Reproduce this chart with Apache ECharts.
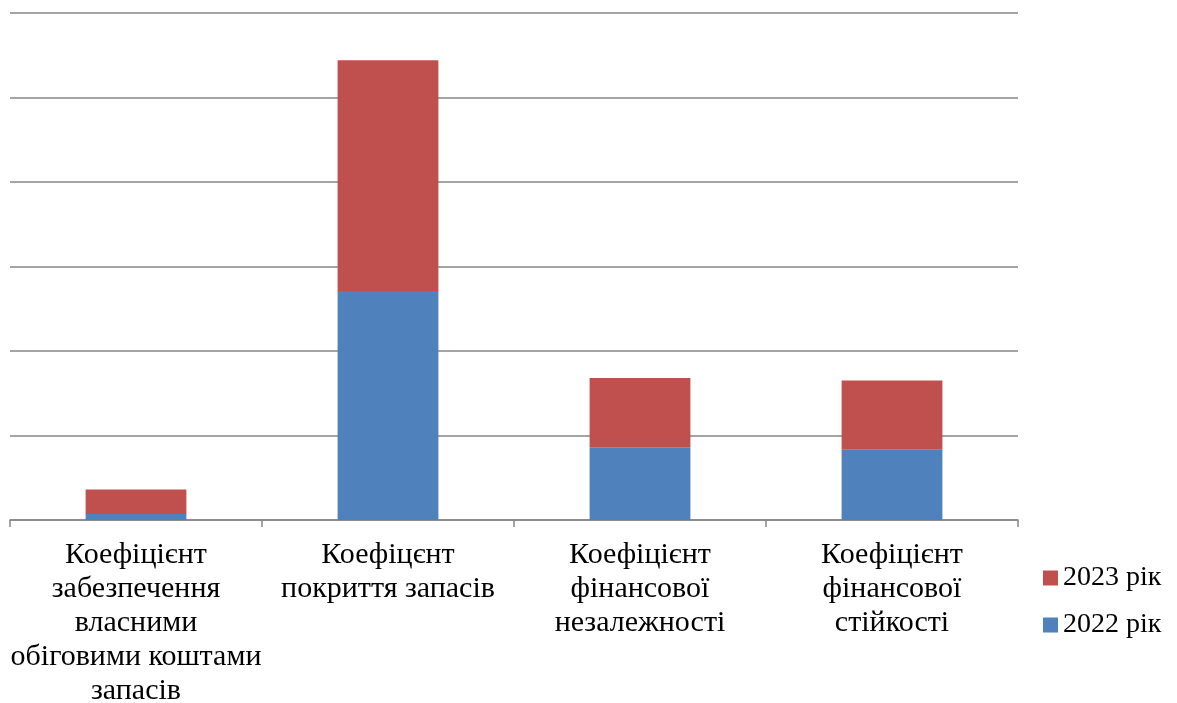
<!DOCTYPE html>
<html>
<head>
<meta charset="utf-8">
<script src="https://cdn.jsdelivr.net/npm/echarts@6/dist/echarts.min.js"></script>
<style>
  html, body { margin: 0; padding: 0; background: #fff; }
  #chart { width: 1177px; height: 703px; }
</style>
</head>
<body>
<div id="chart"></div>
<script>
// Categories (with manual line breaks as laid out under the axis)
const categories = [
  'Коефіцієнт\nзабезпечення\nвласними\nобіговими коштами\nзапасів',
  'Коефіцєнт\nпокриття запасів',
  'Коефіцієнт\nфінансової\nнезалежності',
  'Коефіцієнт\nфінансової\nстійкості'
];
const seriesNames = ['2022 рік', '2023 рік'];
const values2022 = [0.07, 2.71, 0.86, 0.83];
const values2023 = [0.29, 2.73, 0.82, 0.82];
const yTicks = { min: 0, max: 6, interval: 1 };

const fontFamily = '"Liberation Serif", "Times New Roman", serif';
const chart = echarts.init(document.getElementById('chart'), null, { renderer: 'canvas' });

chart.setOption({
  animation: false,
  backgroundColor: '#ffffff',
  grid: {
    left: 10, right: 159, top: 13, bottom: 183,
    containLabel: false,
    outerBoundsMode: 'none'
  },
  legend: {
    orient: 'vertical',
    left: 1038,
    top: 559,
    data: [seriesNames[1], seriesNames[0]],
    itemWidth: 15,
    itemHeight: 15,
    itemGap: 19,
    icon: 'rect',
    textStyle: { fontFamily, fontSize: 28, color: '#000', padding: [0, 0, 0, 0] }
  },
  xAxis: {
    type: 'category',
    data: categories,
    axisLine: { lineStyle: { color: '#868686', width: 1.5 } },
    axisTick: { show: true, length: 7, lineStyle: { color: '#868686', width: 1.5 } },
    axisLabel: {
      interval: 0,
      margin: 18,
      fontFamily,
      fontSize: 30,
      lineHeight: 34,
      color: '#000',
      align: 'center'
    }
  },
  yAxis: {
    type: 'value',
    min: yTicks.min,
    max: yTicks.max,
    interval: yTicks.interval,
    axisLine: { show: false },
    axisTick: { show: false },
    axisLabel: { show: false },
    splitLine: { lineStyle: { color: '#868686', width: 1.5 } }
  },
  series: [
    {
      name: seriesNames[0],
      type: 'bar',
      stack: 'total',
      barWidth: '40%',
      data: values2022,
      itemStyle: { color: '#4F81BD' }
    },
    {
      name: seriesNames[1],
      type: 'bar',
      stack: 'total',
      barWidth: '40%',
      data: values2023,
      itemStyle: { color: '#C0504D' }
    }
  ]
});
</script>
</body>
</html>
